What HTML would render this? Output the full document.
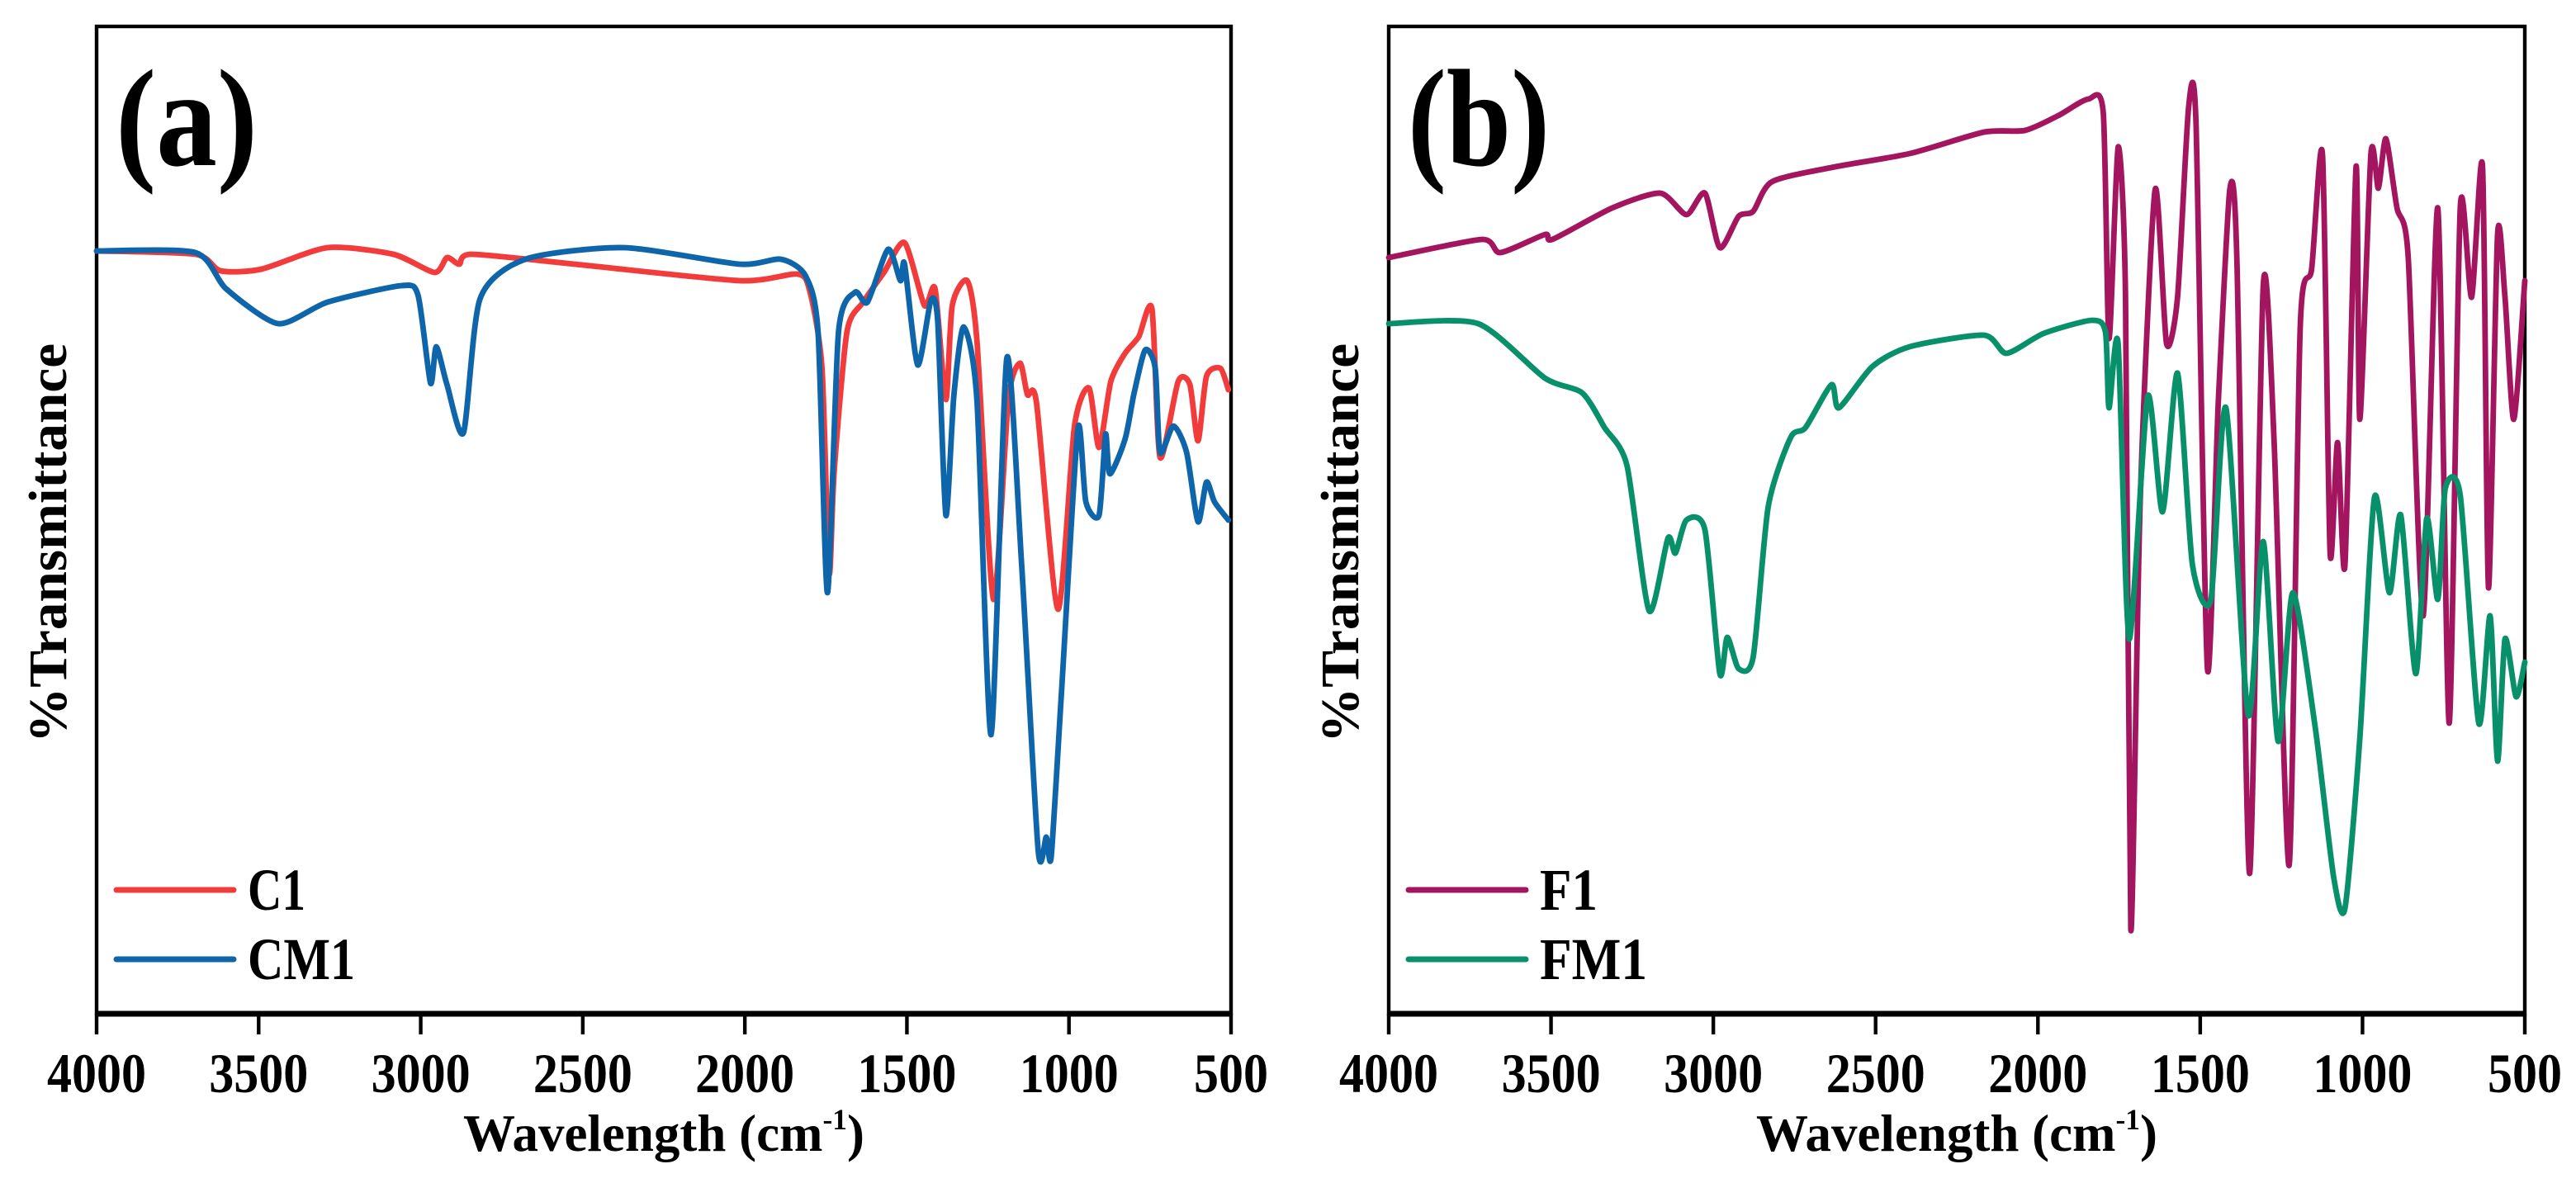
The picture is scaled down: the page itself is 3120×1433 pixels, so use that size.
<!DOCTYPE html>
<html><head><meta charset="utf-8"><style>
html,body{margin:0;padding:0;background:#fff;}
svg{display:block;}
text{font-family:"Liberation Serif",serif;font-weight:bold;fill:#000;}
</style></head><body>
<svg id="fig" width="3120" height="1433" viewBox="0 0 1560 716.5" xmlns="http://www.w3.org/2000/svg"></svg>
<script>
// Shared axis data
const xTicks = [4000,3500,3000,2500,2000,1500,1000,500];
// Panel (a) data: wavenumber (cm-1) and transmittance (arbitrary units, 13-611)
const c1Wave = [4000,3695,3618,3491,3288,3084,2957,2919,2881,2843,2525,2016,1838,1800,1762,1740,1725,1685,1635,1571,1507,1446,1413,1380,1360,1314,1284,1233,1187,1151,1128,1100,1034,983,938,907,871,827,785,744,719,663,627,602,576,533,508];
const c1Trans = [475,473,463,464,477,473,462,471,467,473,467,457,461,451,404,280,340,426,444,462,480,442,452,385,442,457,421,264,385,407,388,383,258,369,392,356,396,413,423,440,350,396,394,360,399,404,391];
const cm1Wave = [4000,3695,3600,3440,3288,3059,3008,2970,2952,2919,2868,2817,2677,2372,2016,1889,1813,1774,1745,1711,1660,1622,1558,1520,1507,1467,1426,1405,1380,1355,1325,1284,1240,1192,1146,1095,1070,1055,1024,973,948,907,887,874,827,800,765,734,719,678,637,602,576,551,508];
const cm1Trans = [475,474,452,431,444,454,448,395,417,394,365,446,470,477,467,470,460,426,268,426,450,444,476,457,467,406,445,432,315,388,429,385,182,410,285,112,120,108,204,367,323,315,364,340,361,388,415,404,353,369,353,311,335,323,312];
// Panel (b) data
const f1Wave = [4000,3713,3656,3519,3496,3312,3163,3083,3026,2980,2922,2877,2819,2624,2395,2166,2040,1937,1845,1799,1781,1753,1730,1714,1685,1639,1604,1570,1536,1513,1478,1444,1409,1387,1348,1306,1272,1226,1192,1157,1123,1100,1077,1054,1020,1008,974,951,928,894,859,813,768,733,699,664,630,612,584,561,534,500];
const f1Trans = [471,482,474,485,482,501,510,497,510,477,496,499,517,526,534,547,548,557,567,559,422,538,447,64,324,512,419,447,562,552,222,384,512,471,98,454,359,103,429,464,533,292,359,285,526,373,534,513,543,501,471,254,501,189,501,447,526,271,485,447,373,457];
const fm1Wave = [4000,3725,3519,3404,3335,3266,3198,3140,3117,3083,3026,2980,2957,2922,2877,2831,2762,2716,2636,2613,2510,2395,2166,2097,1983,1834,1792,1781,1753,1719,1662,1616,1570,1524,1467,1421,1352,1306,1260,1215,1146,1089,1054,1008,963,917,882,836,802,768,745,699,642,607,584,561,527,500];
const fm1Trans = [431,431,398,389,368,345,257,301,292,312,306,219,241,222,229,320,362,368,394,380,405,417,424,413,425,433,426,380,419,240,387,317,401,285,264,380,194,299,178,268,187,96,77,180,326,268,315,219,313,264,331,327,189,254,166,240,205,226];

const NS = "http://www.w3.org/2000/svg";
const svg = document.getElementById('fig');
function mk(tag, attrs, parent){
  const e = document.createElementNS(NS, tag);
  for (const k in attrs) e.setAttribute(k, attrs[k]);
  (parent||svg).appendChild(e);
  return e;
}
const TOP = 16, BOT = 614, VMIN = 13, VMAX = 611;

function smoothPath(pts){
  let d = 'M' + pts[0][0].toFixed(1) + ' ' + pts[0][1].toFixed(1);
  for (let i = 0; i < pts.length - 1; i++){
    const p0 = pts[Math.max(i-1,0)], p1 = pts[i], p2 = pts[i+1], p3 = pts[Math.min(i+2, pts.length-1)];
    const k = 0.12;
    const c1x = p1[0] + (p2[0]-p0[0])*k, c1y = p1[1] + (p2[1]-p0[1])*k;
    const c2x = p2[0] - (p3[0]-p1[0])*k, c2y = p2[1] - (p3[1]-p1[1])*k;
    d += 'C' + c1x.toFixed(1) + ' ' + c1y.toFixed(1) + ' ' + c2x.toFixed(1) + ' ' + c2y.toFixed(1) + ' ' + p2[0].toFixed(1) + ' ' + p2[1].toFixed(1);
  }
  return d;
}

function panel(left, right, letter, series, id){
  const g = mk('g', {});
  
  
  const xs = w => left + (4000 - w) / 3500 * (right - left);
  const ys = v => BOT - (v - VMIN) / (VMAX - VMIN) * (BOT - TOP);
  const fr = mk('rect', {x:left, y:TOP, width:right-left, height:BOT-TOP, fill:'none', stroke:'#000', 'stroke-width':2.2}, g);
  
  
  const ax = mk('line', {x1:left-1, x2:right+1, y1:BOT, y2:BOT, stroke:'#000', 'stroke-width':3.5}, g);
  
  
  series.forEach(s => {
    const pts = s.w.map((w, i) => [xs(w), ys(s.t[i])]);
    const p = mk('path', {d:smoothPath(pts), fill:'none', stroke:s.color, 'stroke-width':3.4, 'stroke-linejoin':'round', 'stroke-linecap':'round'}, g);
    
    
  });
  xTicks.forEach(t => {
    const x = xs(t);
    const tk = mk('line', {x1:x, x2:x, y1:BOT, y2:BOT+12.5, stroke:'#000', 'stroke-width':2.2}, g);
    
    
    const lbl = String(t);
    const tx = mk('text', {x:x, y:661.5, 'font-size':34, 'text-anchor':'middle', textLength:lbl.length * 15, lengthAdjust:'spacingAndGlyphs'}, g);
    tx.textContent = lbl;
    
    
  });
  const cx = (left + right) / 2;
  const xt = mk('text', {x:cx, y:697, 'font-size':32, 'text-anchor':'middle'}, g);
  
  
  xt.setAttribute('textLength', 243);
  xt.setAttribute('lengthAdjust', 'spacingAndGlyphs');
  xt.appendChild(document.createTextNode('Wavelength (cm'));
  const sup = mk('tspan', {dy:-13, 'font-size':18}, xt);
  sup.textContent = '-1';
  const cl = mk('tspan', {dy:13}, xt);
  cl.textContent = ')';
  const yt = mk('text', {x:0, y:0, 'font-size':33, 'text-anchor':'middle', transform:'translate(' + (left - 18.5) + ',329) rotate(-90)', textLength:242, lengthAdjust:'spacingAndGlyphs'}, g);
  yt.textContent = '%Transmittance';
  
  
  const pl = mk('text', {x:left + 11.5, y:100, 'font-size':84, textLength:86, lengthAdjust:'spacingAndGlyphs'}, g);
  pl.textContent = '(' + letter + ')';
  
  
  series.forEach((s, i) => {
    const ly = 539 + i * 42;
    const ll = mk('line', {x1:left + 12, x2:left + 83, y1:ly, y2:ly, stroke:s.color, 'stroke-width':3.5, 'stroke-linecap':'round'}, g);
    
    
    const lt = mk('text', {x:left + 91.5, y:ly + 12, 'font-size':36, textLength:s.name.length === 2 ? 35 : 65, lengthAdjust:'spacingAndGlyphs'}, g);
    lt.textContent = s.name;
    
    
  });
}
panel(58.5, 745.5, 'a', [
  {name:'C1', color:'#f23b3b', w:c1Wave, t:c1Trans},
  {name:'CM1', color:'#0f65a9', w:cm1Wave, t:cm1Trans}
], 'a');
panel(841, 1529, 'b', [
  {name:'F1', color:'#a3165f', w:f1Wave, t:f1Trans},
  {name:'FM1', color:'#08906b', w:fm1Wave, t:fm1Trans}
], 'b');
</script>
</body></html>
